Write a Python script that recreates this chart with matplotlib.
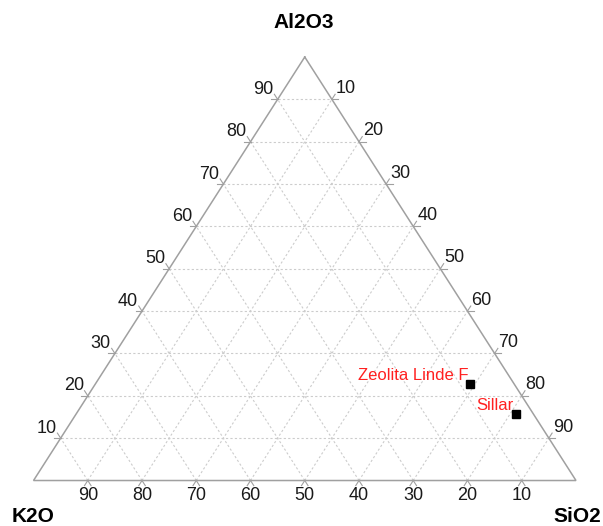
import matplotlib
matplotlib.use("Agg")
import matplotlib.pyplot as plt
import numpy as np

# Ternary composition (fractions): Al2O3 (top), K2O (left), SiO2 (right)
sample_names = ["Zeolita Linde F", "Sillar"]
al2o3 = [0.229, 0.156]
k2o = [0.080, 0.033]
sio2 = [0.691, 0.811]

tick_values = [10, 20, 30, 40, 50, 60, 70, 80, 90]
apex_labels = ["Al2O3", "K2O", "SiO2"]

FONT = "Liberation Sans"
EDGE = "#a0a0a0"
GRID = "#cccccc"
TXT = "#1a1a1a"


def tern(a, b, c):
    """Map (top, left, right) fractions to plot coordinates."""
    a = np.asarray(a, float)
    c = np.asarray(c, float)
    return c + a / 2.0, a


fig = plt.figure(figsize=(6.03, 5.26), dpi=100)
ax = fig.add_axes([0, 0, 1, 1])
ax.set_xlim(-0.0618, 1.0498)
ax.set_ylim(-0.1074, 1.1346)
ax.axis("off")

# grid lines, each slightly extended past the frame to form the ticks
ext = 0.012
for v in tick_values:
    f = v / 100.0
    # constant Al2O3 (horizontal)
    x0, y0 = tern(f, 1 - f, 0)
    x1, y1 = tern(f, 0, 1 - f)
    ax.plot([x0, x1], [y0, y1], ls=(0, (2, 2)), color=GRID, lw=0.8, zorder=1)
    for (xs, ys) in [tern([f, f], [1 - f, 1 - f + ext], [0, -ext]),
                     tern([f, f], [0, -ext], [1 - f, 1 - f + ext])]:
        ax.plot(xs, ys, color=EDGE, lw=0.8, zorder=2)
    # constant K2O
    x0, y0 = tern(0, f, 1 - f)
    x1, y1 = tern(1 - f, f, 0)
    ax.plot([x0, x1], [y0, y1], ls=(0, (2, 2)), color=GRID, lw=0.8, zorder=1)
    for (xs, ys) in [tern([0, -ext], [f, f], [1 - f, 1 - f + ext]),
                     tern([1 - f, 1 - f + ext], [f, f], [0, -ext])]:
        ax.plot(xs, ys, color=EDGE, lw=0.8, zorder=2)
    # constant SiO2
    x0, y0 = tern(0, 1 - f, f)
    x1, y1 = tern(1 - f, 0, f)
    ax.plot([x0, x1], [y0, y1], ls=(0, (2, 2)), color=GRID, lw=0.8, zorder=1)
    for (xs, ys) in [tern([0, -ext], [1 - f, 1 - f + ext], [f, f]),
                     tern([1 - f, 1 - f + ext], [0, -ext], [f, f])]:
        ax.plot(xs, ys, color=EDGE, lw=0.8, zorder=2)

# triangle frame
fx, fy = tern([1, 0, 0, 1], [0, 1, 0, 0], [0, 0, 1, 0])
ax.plot(fx, fy, color=EDGE, lw=1.1, zorder=3, solid_joinstyle="miter")

# tick labels
for v in tick_values:
    f = v / 100.0
    # Al2O3 along the left edge
    x, y = tern(f, 1 - f, 0)
    ax.annotate(str(v), (x, y), xytext=(-4, 10), textcoords="offset pixels",
                ha="right", va="center", fontsize=13, family=FONT, color=TXT)
    # SiO2 along the right edge
    x, y = tern(1 - f, 0, f)
    ax.annotate(str(v), (x, y), xytext=(4, 11), textcoords="offset pixels",
                ha="left", va="center", fontsize=13, family=FONT, color=TXT)
    # K2O along the base
    x, y = tern(0, f, 1 - f)
    ax.annotate(str(v), (x, y), xytext=(0, -15), textcoords="offset pixels",
                ha="center", va="center", fontsize=13, family=FONT, color=TXT)

# apex names
x, y = tern(1, 0, 0)
ax.annotate(apex_labels[0], (x, y), xytext=(-1, 35), textcoords="offset pixels",
            ha="center", va="center", fontsize=15, fontweight="bold", family=FONT)
x, y = tern(0, 1, 0)
ax.annotate(apex_labels[1], (x, y), xytext=(-22, -36), textcoords="offset pixels",
            ha="left", va="center", fontsize=15, fontweight="bold", family=FONT)
x, y = tern(0, 0, 1)
ax.annotate(apex_labels[2], (x, y), xytext=(25, -36), textcoords="offset pixels",
            ha="right", va="center", fontsize=15, fontweight="bold", family=FONT)

# samples
px, py = tern(al2o3, k2o, sio2)
ax.plot(px, py, ls="none", marker="s", ms=6, color="black", zorder=5)
for name, x, y in zip(sample_names, px, py):
    ax.annotate(name, (x, y), xytext=(-2, 4), textcoords="offset pixels",
                ha="right", va="baseline", fontsize=12, family=FONT, color="#ff2020")

fig.savefig("out.png", dpi=100)
